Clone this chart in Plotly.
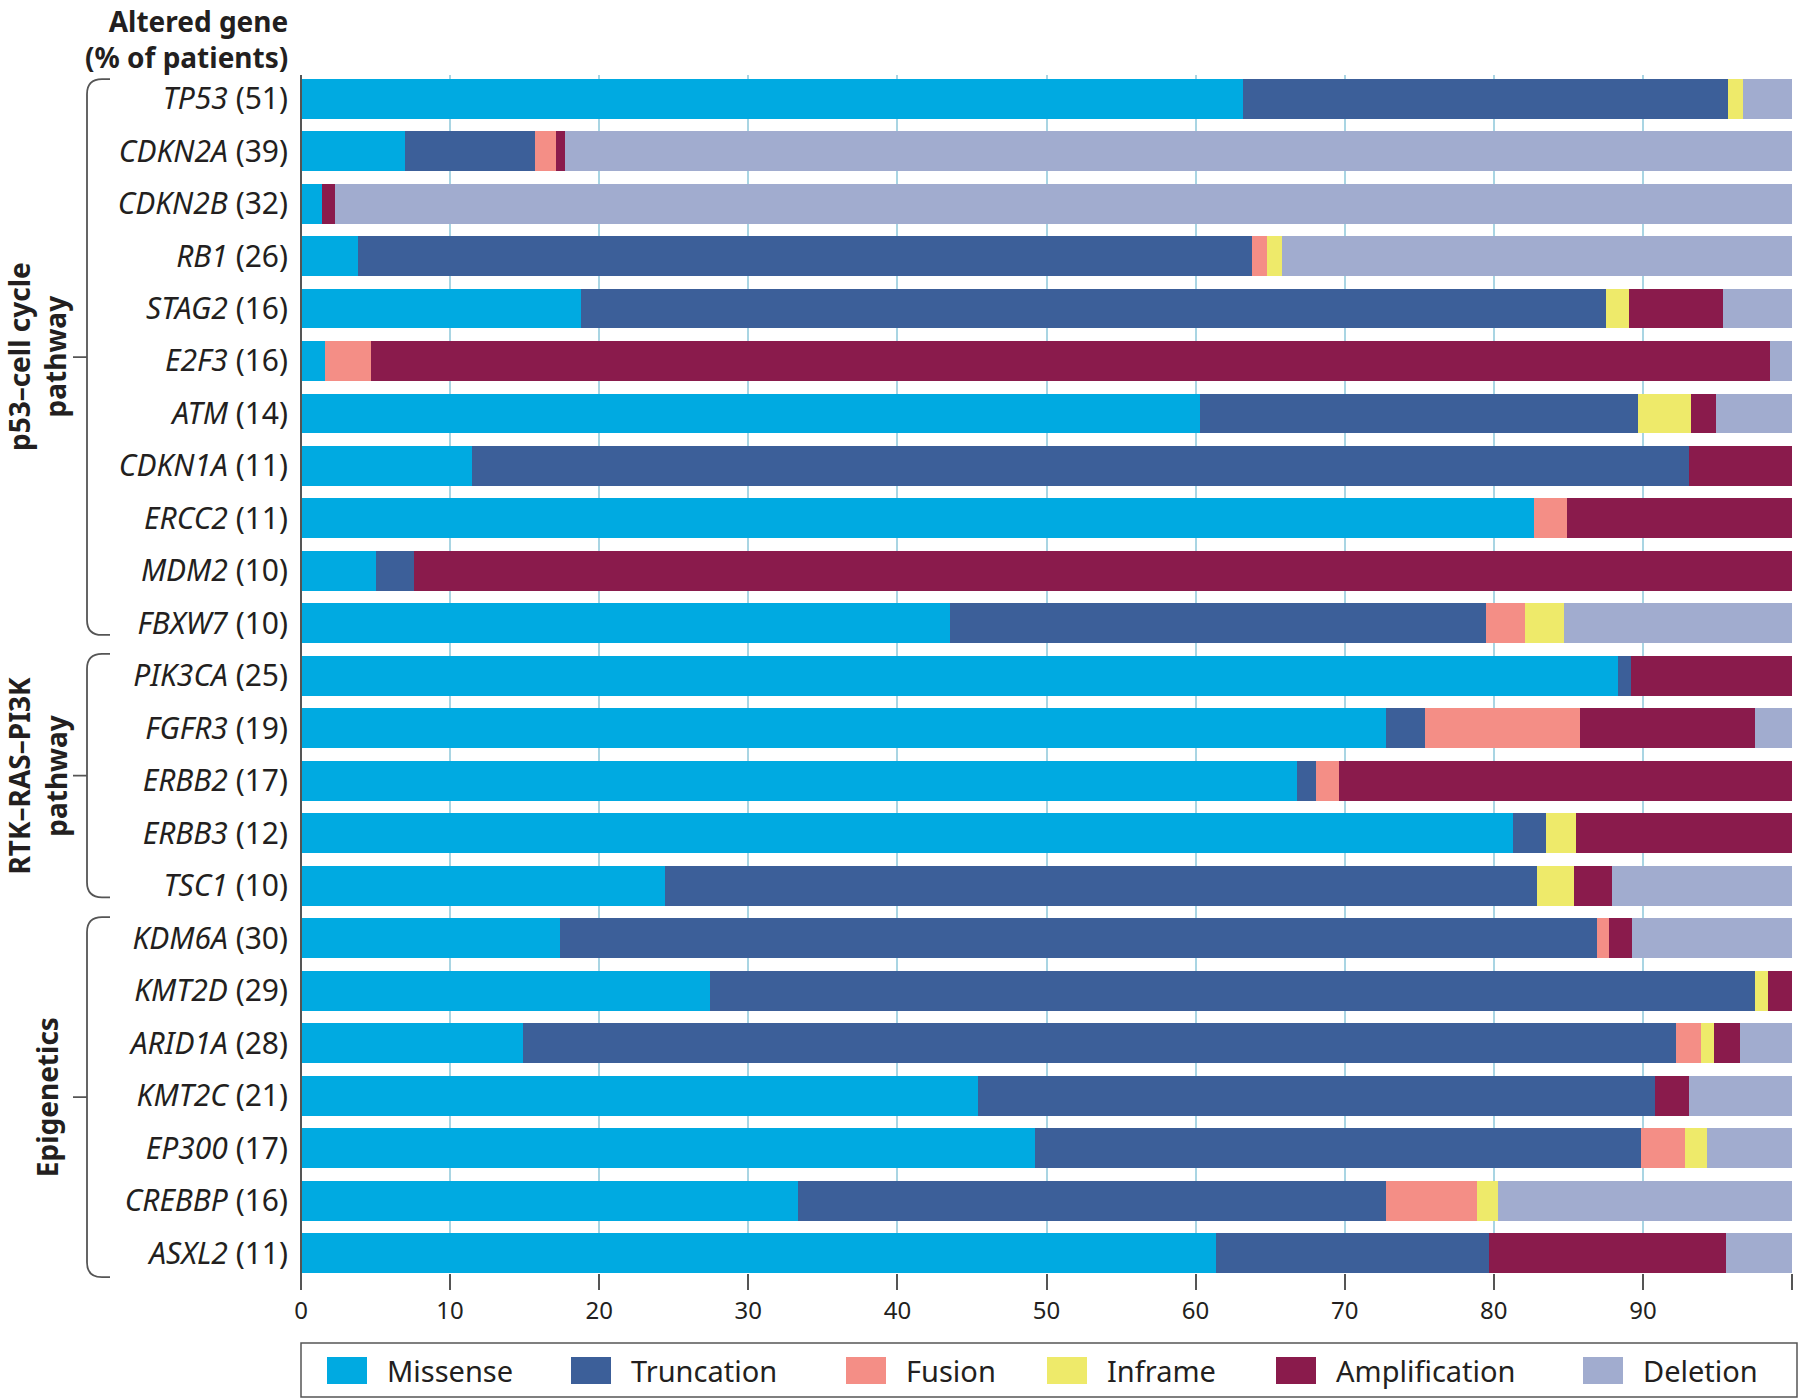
import plotly.graph_objects as go

# genes and % of patients with an alteration
genes = ["TP53", "CDKN2A", "CDKN2B", "RB1", "STAG2", "E2F3", "ATM", "CDKN1A", "ERCC2",
         "MDM2", "FBXW7", "PIK3CA", "FGFR3", "ERBB2", "ERBB3", "TSC1", "KDM6A", "KMT2D",
         "ARID1A", "KMT2C", "EP300", "CREBBP", "ASXL2"]
patients_pct = [51, 39, 32, 26, 16, 16, 14, 11, 11, 10, 10, 25, 19, 17, 12, 10,
                30, 29, 28, 21, 17, 16, 11]

# share of each alteration type (%)
missense = [63.2, 7.0, 1.4, 3.8, 18.8, 1.6, 60.3, 11.5, 82.7, 5.0, 43.5, 88.3, 72.8,
            66.8, 81.3, 24.4, 17.4, 27.4, 14.9, 45.4, 49.2, 33.3, 61.4]
truncation = [32.5, 8.7, 0, 60.0, 68.7, 0, 29.4, 81.6, 0, 2.6, 36.0, 0.9, 2.6,
              1.3, 2.2, 58.5, 69.5, 70.1, 77.3, 45.4, 40.7, 39.5, 18.3]
fusion = [0, 1.4, 0, 1.0, 0, 3.1, 0, 0, 2.2, 0, 2.6, 0, 10.4,
          1.5, 0, 0, 0.8, 0, 1.7, 0, 2.9, 6.1, 0]
inframe = [1.0, 0, 0, 1.0, 1.6, 0, 3.5, 0, 0, 0, 2.6, 0, 0,
           0, 2.0, 2.5, 0, 0.9, 0.9, 0, 1.5, 1.4, 0]
amplification = [0, 0.6, 0.9, 0, 6.3, 93.8, 1.7, 6.9, 15.1, 92.4, 0, 10.8, 11.7,
                 30.4, 14.5, 2.5, 1.6, 1.6, 1.7, 2.3, 0, 0, 15.9]
deletion = [3.3, 82.3, 97.7, 34.2, 4.6, 1.5, 5.1, 0, 0, 0, 15.3, 0, 2.5,
            0, 0, 12.1, 10.7, 0, 3.5, 6.9, 5.7, 19.7, 4.4]

alteration_types = ["Missense", "Truncation", "Fusion", "Inframe", "Amplification", "Deletion"]
series = [missense, truncation, fusion, inframe, amplification, deletion]
colors = ["#00AAE1", "#3C5F99", "#F48E86", "#EEEA6A", "#8A1B4C", "#A1ACCF"]

pathways = ["p53–cell cycle<br>pathway", "RTK–RAS–PI3K<br>pathway", "Epigenetics"]
pathway_first = ["TP53", "PIK3CA", "KDM6A"]
pathway_last = ["FBXW7", "TSC1", "ASXL2"]

FONT = "Noto Sans"
INK = "#231F20"
LINE = "#555555"

W, H = 1800, 1399
L, R, T, B = 301, 8, 75, 126
PW, PH = W - L - R, H - T - B
Y_TOP, Y_BOT = -0.45, 22.38


def xp(px):
    return (px - L) / PW


def yp_px(py):
    return (T + PH - py) / PH


def yp_cat(u):
    return (Y_BOT - u) / (Y_BOT - Y_TOP)


fig = go.Figure()
for name, vals, col in zip(alteration_types, series, colors):
    fig.add_trace(go.Bar(y=genes, x=vals, name=name, orientation="h",
                         marker=dict(color=col, line=dict(width=0)), showlegend=False))

ticktext = [f"<i>{g}</i> ({p})" for g, p in zip(genes, patients_pct)]

fig.update_layout(
    width=W, height=H,
    margin=dict(l=L, r=R, t=T, b=B, pad=0),
    barmode="stack", bargap=0.24,
    plot_bgcolor="white", paper_bgcolor="white",
    font=dict(family=FONT, color=INK),
    xaxis=dict(range=[0, 100], tickvals=list(range(0, 101, 10)), showgrid=True,
               gridcolor="#A9D5E3", gridwidth=1.5, zeroline=False, showline=False,
               ticks="outside", ticklen=16, tickwidth=1.5, tickcolor=LINE,
               tickfont=dict(size=24, family=FONT, color=INK)),
    yaxis=dict(type="category", categoryorder="array", categoryarray=genes,
               range=[Y_BOT, Y_TOP], tickvals=genes, ticktext=ticktext,
               showgrid=False, zeroline=False, showline=False, ticks="",
               ticklabelstandoff=12, tickfont=dict(size=30, family=FONT, color=INK)),
)

shapes = []
# left axis line reaching down to the tick ends
shapes.append(dict(type="line", xref="paper", yref="paper", x0=0, x1=0,
                   y0=yp_px(T + PH + 16), y1=1, line=dict(color=LINE, width=2)))

# pathway brackets
bracket_pad = {"top": [-0.37, -0.42, -0.40], "bot": [0.22, 0.22, 0.46]}
xv, xr, xl = xp(87), xp(110), xp(73)
rx, ry = 15 / PW, 15 / PH
for i, (first, last, label) in enumerate(zip(pathway_first, pathway_last, pathways)):
    top = yp_cat(genes.index(first) + bracket_pad["top"][i])
    bot = yp_cat(genes.index(last) + bracket_pad["bot"][i])
    mid = (top + bot) / 2
    path = (f"M{xr},{top} L{xv + rx},{top} Q{xv},{top} {xv},{top - ry} "
            f"L{xv},{bot + ry} Q{xv},{bot} {xv + rx},{bot} L{xr},{bot} "
            f"M{xl},{mid} L{xv},{mid}")
    shapes.append(dict(type="path", xref="paper", yref="paper", path=path,
                       line=dict(color=LINE, width=1.8)))
    fig.add_annotation(x=xp(37 if "<br>" in label else 47), y=mid, xref="paper", yref="paper",
                       text=f"<b>{label}</b>", textangle=-90, showarrow=False,
                       xanchor="center", yanchor="middle",
                       font=dict(size=28, family=FONT, color=INK))

# title of the gene column
fig.add_annotation(x=xp(290), y=yp_px(0), xref="paper", yref="paper",
                   text="<b>Altered gene<br>(% of patients)</b>", showarrow=False,
                   xanchor="right", yanchor="top", align="right",
                   font=dict(size=28, family=FONT, color=INK))

# legend box drawn by hand
legend_x = [327, 571, 846, 1047, 1276, 1583]
shapes.append(dict(type="rect", xref="paper", yref="paper", x0=xp(301), x1=xp(1797),
                   y0=yp_px(1397), y1=yp_px(1343), line=dict(color=LINE, width=1.5),
                   fillcolor="white"))
for name, col, lx in zip(alteration_types, colors, legend_x):
    shapes.append(dict(type="rect", xref="paper", yref="paper", x0=xp(lx), x1=xp(lx + 40),
                       y0=yp_px(1384), y1=yp_px(1357), line=dict(width=0), fillcolor=col))
    fig.add_annotation(x=xp(lx + 58), y=yp_px(1370.5), xref="paper", yref="paper",
                       text=name, showarrow=False, xanchor="left", yanchor="middle",
                       font=dict(size=29, family=FONT, color=INK))

fig.update_layout(shapes=shapes)

fig.write_html("out.html", config={"displayModeBar": False},
               post_script="document.body.style.margin='0';")
